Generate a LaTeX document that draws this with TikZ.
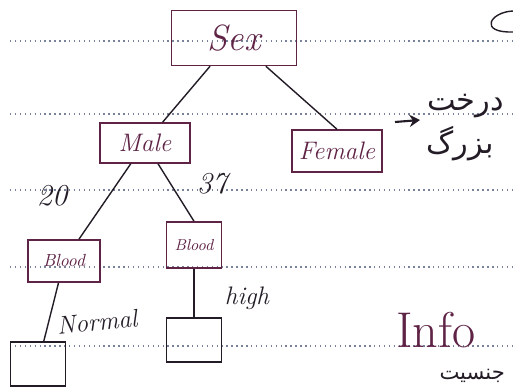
\documentclass[tikz,border=0pt]{standalone}
\usepackage{fontspec}
\newfontfamily\persfont[Script=Arabic]{DejaVu Sans}
\TeXXeTstate=1
\usetikzlibrary{positioning,arrows.meta}
\definecolor{ink}{RGB}{95,35,70}
\definecolor{pen}{RGB}{35,28,38}
\definecolor{rule}{RGB}{120,130,155}
\tikzset{
	split/.style={draw=ink, thick, text=ink, inner sep=0pt, font=\Large\itshape},
	leaf/.style={draw=pen, thick, inner sep=0pt, minimum width=1.1cm, minimum height=0.88cm},
	lbl/.style={text=pen, font=\Large\itshape},
	branch/.style={draw=pen, thick},
}

\begin{document}
\begin{tikzpicture}[x=0.02cm, y=-0.02cm]
	\useasboundingbox (0,0) rectangle (513,391);
	\clip (0,0) rectangle (513,391);
	\foreach \y in {41,114,190,267,346}
		\draw[rule, dotted, thick] (10,\y) -- (513,\y);
	\node[split, minimum width=2.5cm, minimum height=1.1cm, font=\huge\itshape] (sex) at (234,38) {Sex};
	\node[split, on grid, below left = 2.1cm and 1.78cm of sex, minimum width=1.8cm, minimum height=0.8cm](male){Male};
	\node[split, on grid, below right = 2.26cm and 2.06cm of sex, minimum width=1.8cm, minimum height=0.84cm](female){Female};
	\node[split, on grid, below left = 2.36cm and 1.62cm of male, minimum width=1.44cm, minimum height=0.84cm, font=\itshape](bloodl){Blood};
	\node[split, on grid, below right = 2.04cm and 0.98cm of male, minimum width=1.1cm, minimum height=0.92cm, font=\small\itshape](bloodr){Blood};
	\node[leaf, on grid, below left = 2.06cm and 0.52cm of bloodl](leafl){};
	\node[leaf, on grid, below = 1.9cm of bloodr](leafr){};
	\draw[branch] (sex) -- (male);
	\draw[branch] (sex) -- (female.north);
	\draw[branch] (male) -- (bloodl);
	\draw[branch] (male) -- (bloodr.north);
	\draw[branch] (bloodl) -- (leafl);
	\draw[branch] (bloodr) -- (leafr);
	\node[lbl, font=\LARGE\itshape] (n20) at (52,196) {20};
	\node[lbl, font=\LARGE\itshape] (n37) at (212,184) {37};
	\node[lbl, rotate=6] (normal) at (97,322) {Normal};
	\node[lbl] (high) at (247,298) {high};
	\node[text=ink, font=\Huge, scale=1.15] (info) at (436,330) {Info};
	% note on the right
	\node[text=pen, font=\LARGE\persfont, anchor=east] (tree1) at (510,106) {\beginR درخت\endR};
	\node[text=pen, font=\LARGE\persfont, anchor=east] (tree2) at (500,144) {\beginR بزرگ\endR};
	\coordinate (arra) at (395,122);
	\coordinate (arrb) at (420,120);
	\draw[pen, very thick, -{Stealth[length=6pt,width=7pt]}] (arra) -- (arrb);
	\node[text=pen, font=\large\persfont, anchor=east] (gender) at (511,376) {\beginR جنسیت\endR};
	\draw[pen, thick] (513,11) .. controls (490,12) and (478,33) .. (513,32);
\end{tikzpicture}
\end{document}
